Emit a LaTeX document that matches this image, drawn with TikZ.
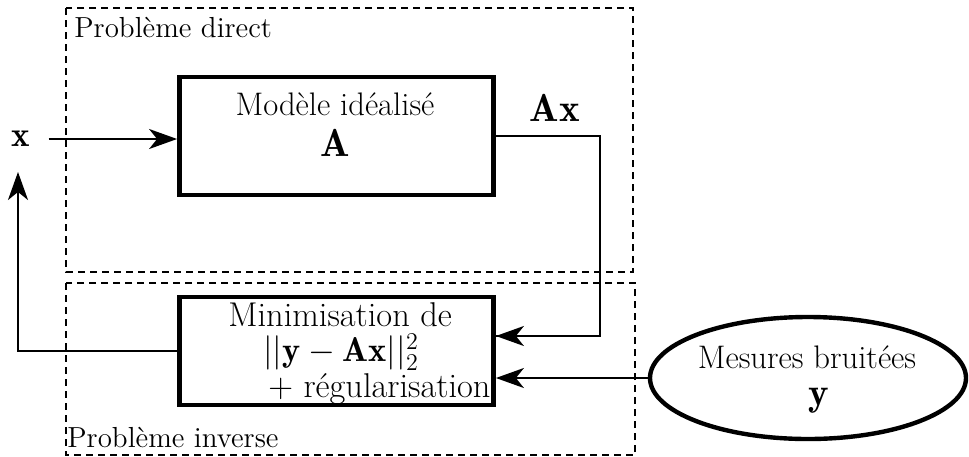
\RequirePackage{fix-cm}
\documentclass[tikz,border=0pt]{standalone}
\usepackage{fontspec}
\usetikzlibrary{arrows.meta,shapes.geometric,calc}
\begin{document}
\begin{tikzpicture}[x=0.5pt,y=-0.5pt,
  thickbox/.style={draw,line width=2.4pt,rectangle,minimum width=157pt,inner sep=0pt},
  arr/.style={-{Stealth[length=14pt,width=10pt,inset=4pt]},line width=1pt},
  conn/.style={line width=1pt},
  frame/.style={draw,line width=0.6pt,dash pattern=on 3.5pt off 2.5pt},
  lbl/.style={inner sep=0pt,font=\fontsize{14.5}{17}\selectfont},
  txt/.style={inner sep=0pt,font=\fontsize{16.3}{19}\selectfont},
  txtb/.style={inner sep=0pt,align=left,font={\fontsize{17.2}{17.75}\selectfont\lineskiplimit=-30pt}},
  big/.style={inner sep=0pt,font=\fontsize{19.5}{22}\selectfont}]
\useasboundingbox (0,0) rectangle (969,456);
% frames
\draw[frame] (66,8) rectangle (633,272);
\draw[frame] (66,283) rectangle (635,455);
\node[lbl,anchor=west] (pd) at (74,28) {Problème direct};
\node[lbl,anchor=west] (pi) at (67,438) {Problème inverse};
% boxes
\node[thickbox,minimum height=59pt] (top) at (336.5,136) {};
\node[thickbox,minimum height=54pt] (bot) at (336.5,351) {};
\node[draw,ellipse,line width=2.2pt,minimum width=158pt,minimum height=61pt,inner sep=0pt] (ell) at (808,378) {};
% texts
\node[txt] (t1) at (335,104) {Modèle idéalisé};
\node[big] (t2) at (335,143) {$\mathbf{A}$};
\node[txtb,anchor=base west] (b1) at (228,397) {Minimisation de\\
\hspace*{17.5pt}$||\mathbf{y}-\mathbf{A}\mathbf{x}||_2^2$\\
\hspace*{20pt}+ régularisation};
\node[txt] (e1) at (807,357) {Mesures bruitées};
\node[big] (e2) at (819,401) {$\mathbf{y}$};
\node[font=\fontsize{17.5}{20}\selectfont,inner sep=0pt] (x) at (21,139) {$\mathbf{x}$};
\node[big] (ax) at (555,108) {$\mathbf{Ax}$};
% connectors
\coordinate (c1) at (600,0);
\coordinate (c2) at (18,172);
\draw[arr,shorten <=9pt] (x.east) -- (x.east -| top.west);
\draw[conn] (top.east) -- (top.east -| c1) |- coordinate[pos=0.5] (m1) ([yshift=7.5pt]bot.east);
\draw[arr] (m1) -- ([yshift=7.5pt]bot.east);
\draw[arr] (ell.west) -- (ell.west -| bot.east);
\draw[arr] (bot.west) -| (c2);
\end{tikzpicture}
\end{document}
